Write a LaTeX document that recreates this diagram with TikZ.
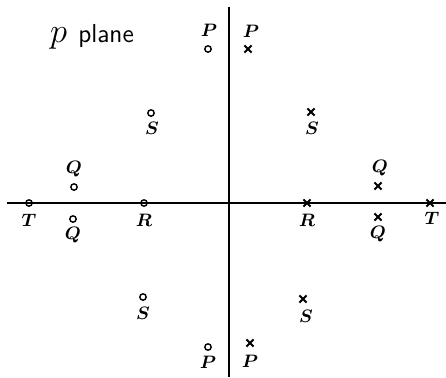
\documentclass[tikz,border=0pt]{standalone}
\usetikzlibrary{shapes.misc}

\begin{document}
\begin{tikzpicture}[
    x=0.5pt, y=-0.5pt,
    zero/.style={
        circle,
        draw,
        line width=0.7pt,
        inner sep=0pt,
        minimum size=3.2pt
    },
    pole/.style={
        cross out,
        draw,
        line width=1pt,
        inner sep=0pt,
        minimum size=2.6pt
    },
    lbl/.style={font=\small\boldmath, inner sep=0pt},
    axis/.style={line width=0.9pt}
]
\useasboundingbox (0,0) rectangle (446,377);

% Achsen
\coordinate (xw) at (7,203);
\coordinate (xe) at (446,203);
\coordinate (yn) at (229,7);
\coordinate (ys) at (229,377);
\draw[axis] (xw) -- (xe);
\draw[axis] (yn) -- (ys);

% Titel
\node (title) at (92,37) {{\LARGE$p$}\;\;{\fontsize{13}{15}\selectfont\sffamily plane}};

% Nullstellen (links)
\node[zero] (zP1) at (208,49) {};
\node[lbl] (zP1l) at (209,30) {$P$};
\node[zero] (zS1) at (151,113) {};
\node[lbl] (zS1l) at (152,128) {$S$};
\node[zero] (zQ1) at (74,187) {};
\node[lbl] (zQ1l) at (74,169) {$Q$};
\node[zero] (zT) at (29,203) {};
\node[lbl] (zTl) at (29,220) {$T$};
\node[zero] (zR) at (144,203) {};
\node[lbl] (zRl) at (144,220) {$R$};
\node[zero] (zQ2) at (73,219) {};
\node[lbl] (zQ2l) at (73,235) {$Q$};
\node[zero] (zS2) at (143,297) {};
\node[lbl] (zS2l) at (143,313) {$S$};
\node[zero] (zP2) at (208,347) {};
\node[lbl] (zP2l) at (208,362) {$P$};

% Pole (rechts)
\node[pole] (pP1) at (248,49) {};
\node[lbl] (pP1l) at (251,31) {$P$};
\node[pole] (pS1) at (311,112) {};
\node[lbl] (pS1l) at (312,128) {$S$};
\node[pole] (pQ1) at (378,186) {};
\node[lbl] (pQ1l) at (380,168) {$Q$};
\node[pole] (pR) at (307,203) {};
\node[lbl] (pRl) at (307,220) {$R$};
\node[pole] (pT) at (430,203) {};
\node[lbl] (pTl) at (432,218) {$T$};
\node[pole] (pQ2) at (378,217) {};
\node[lbl] (pQ2l) at (378,234) {$Q$};
\node[pole] (pS2) at (303,299) {};
\node[lbl] (pS2l) at (306,316) {$S$};
\node[pole] (pP2) at (250,343) {};
\node[lbl] (pP2l) at (250,361) {$P$};

\end{tikzpicture}
\end{document}
